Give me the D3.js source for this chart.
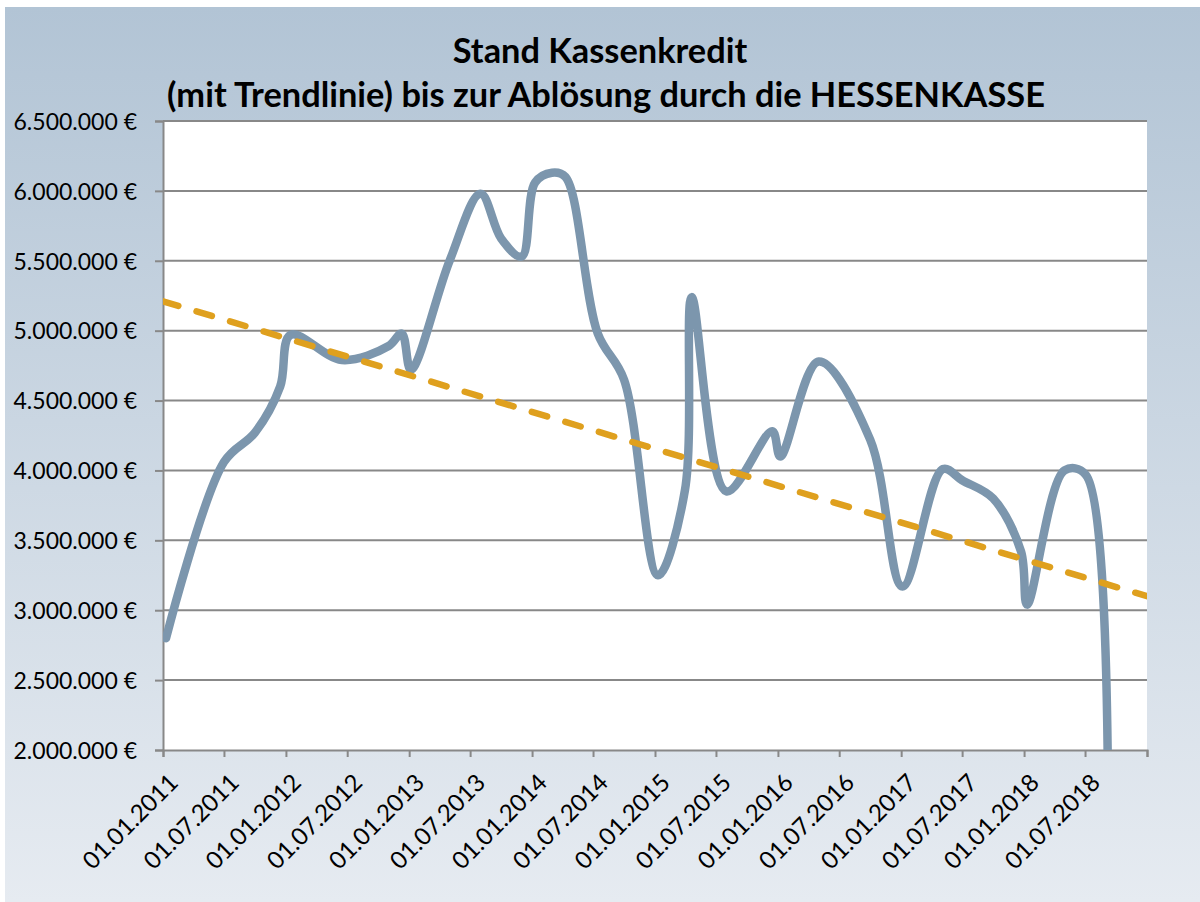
<!DOCTYPE html>
<html>
<head>
<meta charset="utf-8">
<script src="https://cdn.jsdelivr.net/npm/d3@7"></script>
<style>
  html, body { margin: 0; padding: 0; background: #fff; }
  svg { display: block; }
  text { font-family: Lato, "Open Sans", sans-serif; }
</style>
</head>
<body>
<div id="root"></div>
<script>
// Stand Kassenkredit, data
const stichtage = [
  "10.01.2011", "01.07.2011", "01.10.2011", "15.12.2011", "15.01.2012",
  "15.06.2012", "01.11.2012", "10.12.2012", "06.01.2013", "01.05.2013",
  "01.08.2013", "01.10.2013", "01.12.2013", "10.01.2014", "01.03.2014",
  "10.04.2014", "15.07.2014", "01.10.2014", "10.01.2015", "31.03.2015",
  "20.04.2015", "01.08.2015", "15.12.2015", "08.01.2016", "01.05.2016",
  "01.10.2016", "05.01.2017", "05.05.2017", "01.07.2017", "01.10.2017",
  "23.12.2017", "10.01.2018", "01.05.2018", "03.07.2018", "03.09.2018"
];
const kassenkredit = [
  2800000, 4060000, 4270000, 4600000, 4970000,
  4790000, 4890000, 4980000, 4720000, 5500000,
  5980000, 5660000, 5530000, 6060000, 6130000,
  6100000, 4980000, 4650000, 3250000, 3860000,
  5240000, 3850000, 4280000, 4100000, 4780000,
  4220000, 3170000, 4010000, 3930000, 3800000,
  3420000, 3040000, 4000000, 3970000, 0
];
// linear trend line (start / end of axis)
const trendDates = ["01.01.2011", "01.01.2019"];
const trendValues = [5210000, 3100000];

const xTickLabels = [
  "01.01.2011", "01.07.2011", "01.01.2012", "01.07.2012", "01.01.2013",
  "01.07.2013", "01.01.2014", "01.07.2014", "01.01.2015", "01.07.2015",
  "01.01.2016", "01.07.2016", "01.01.2017", "01.07.2017", "01.01.2018",
  "01.07.2018", "01.01.2019"
];
const yTickValues = [2000000, 2500000, 3000000, 3500000, 4000000, 4500000, 5000000, 5500000, 6000000, 6500000];
const titleLines = ["Stand Kassenkredit", "(mit Trendlinie) bis zur Ablösung durch die HESSENKASSE"];

const width = 1200, height = 902;
const plot = {left: 163, right: 1147, top: 121, bottom: 750};
const parse = d3.timeParse("%d.%m.%Y");

const de = d3.formatLocale({decimal: ",", thousands: ".", grouping: [3], currency: ["", " €"]});
const euro = de.format("$,.0f");

const x = d3.scaleTime()
  .domain([parse(xTickLabels[0]), parse(xTickLabels[xTickLabels.length - 1])])
  .range([plot.left, plot.right]);
const y = d3.scaleLinear()
  .domain([2000000, 6500000])
  .range([plot.bottom, plot.top]);

const svg = d3.select("#root").append("svg")
  .attr("width", width)
  .attr("height", height);

const defs = svg.append("defs");
const grad = defs.append("linearGradient")
  .attr("id", "bg")
  .attr("x1", 0).attr("y1", 0).attr("x2", 0).attr("y2", 1);
grad.append("stop").attr("offset", "0%").attr("stop-color", "#b2c4d5");
grad.append("stop").attr("offset", "100%").attr("stop-color", "#e6ebf1");

defs.append("clipPath").attr("id", "plotclip")
  .append("rect")
  .attr("x", plot.left).attr("y", plot.top)
  .attr("width", plot.right - plot.left)
  .attr("height", plot.bottom - plot.top);

svg.append("rect")
  .attr("x", 5).attr("y", 7)
  .attr("width", width - 5).attr("height", height - 7)
  .attr("fill", "url(#bg)");

svg.append("rect")
  .attr("x", plot.left).attr("y", plot.top)
  .attr("width", plot.right - plot.left)
  .attr("height", plot.bottom - plot.top)
  .attr("fill", "#fff");

// gridlines
svg.append("g").selectAll("line")
  .data(yTickValues.slice(1))
  .enter().append("line")
  .attr("x1", plot.left).attr("x2", plot.right)
  .attr("y1", d => y(d)).attr("y2", d => y(d))
  .attr("stroke", "#888")
  .attr("stroke-width", 2);

// y axis
const yAxis = svg.append("g")
  .attr("transform", "translate(" + plot.left + ",0)")
  .call(d3.axisLeft(y).tickValues(yTickValues).tickSize(8).tickPadding(18).tickFormat(euro));
yAxis.select(".domain").attr("stroke", "#888").attr("stroke-width", 2);
yAxis.selectAll(".tick line").attr("stroke", "#888").attr("stroke-width", 2);
yAxis.selectAll(".tick text")
  .attr("font-size", 23)
  .attr("fill", "#000")
  .attr("dy", "0.36em");

// x axis
const xAxis = svg.append("g")
  .attr("transform", "translate(0," + plot.bottom + ")")
  .call(d3.axisBottom(x)
    .tickValues(xTickLabels.map(parse))
    .tickSize(7)
    .tickFormat((d, i) => i < xTickLabels.length - 1 ? xTickLabels[i] : ""));
xAxis.select(".domain").attr("stroke", "#888").attr("stroke-width", 2);
xAxis.selectAll(".tick line").attr("stroke", "#888").attr("stroke-width", 2);
xAxis.selectAll(".tick text")
  .attr("font-size", 24)
  .attr("fill", "#000")
  .attr("x", 0).attr("y", 0)
  .attr("dy", "0.36em")
  .attr("text-anchor", "end")
  .attr("transform", "translate(10,28) rotate(-45)");

// data line, smoothed
const series = stichtage.map((d, i) => ({date: parse(d), value: kassenkredit[i]}));
const line = d3.line()
  .x(d => x(d.date))
  .y(d => y(d.value))
  .curve(d3.curveCatmullRom.alpha(0.5));

const lines = svg.append("g").attr("clip-path", "url(#plotclip)");

lines.append("path")
  .datum(series)
  .attr("d", line)
  .attr("fill", "none")
  .attr("stroke", "#7c96ad")
  .attr("stroke-width", 8.5)
  .attr("stroke-linejoin", "round")
  .attr("stroke-linecap", "round");

// trend line
const trend = trendDates.map((d, i) => ({date: parse(d), value: trendValues[i]}));
lines.append("path")
  .datum(trend)
  .attr("d", d3.line().x(d => x(d.date)).y(d => y(d.value)))
  .attr("fill", "none")
  .attr("stroke", "#dfa01e")
  .attr("stroke-width", 6.5)
  .attr("stroke-linecap", "round")
  .attr("stroke-dasharray", "16 19");

// title
const title = svg.append("g")
  .attr("font-weight", "bold")
  .attr("fill", "#000")
  .attr("text-anchor", "middle");
title.append("text")
  .attr("x", 600).attr("y", 63)
  .attr("font-size", 30)
  .text(titleLines[0]);
const t2 = title.append("text")
  .attr("x", 606).attr("y", 107)
  .attr("font-size", 30)
  .text(titleLines[1]);
// scale both title lines so line 2 spans the same width as in the source
const fit = 30 * 878 / t2.node().getComputedTextLength();
title.selectAll("text").attr("font-size", fit);
</script>
</body>
</html>
